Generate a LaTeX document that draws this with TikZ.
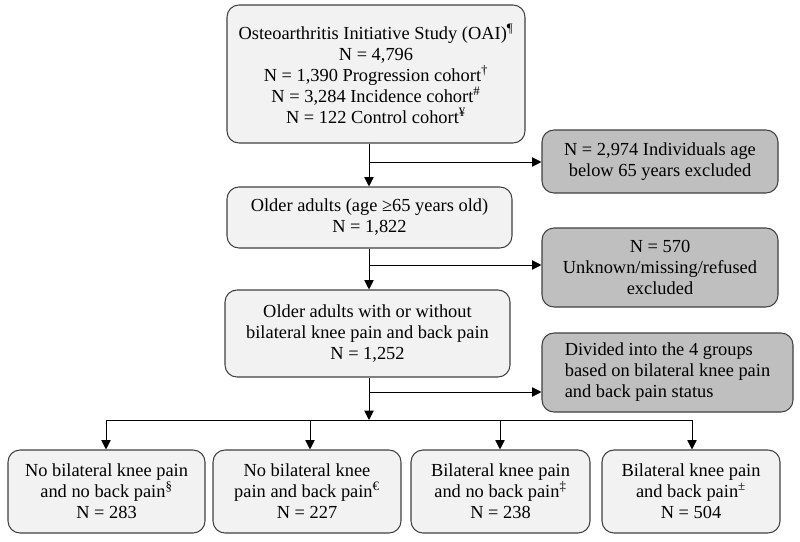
\documentclass[tikz,border=0pt]{standalone}
\usepackage{fontspec}
\setmainfont{Liberation Serif}
\usetikzlibrary{arrows.meta}
\usetikzlibrary{positioning}

\definecolor{boxfill}{gray}{0.95}
\definecolor{exclfill}{gray}{0.75}
\definecolor{edge}{gray}{0.25}

\tikzset{
  flowbox/.style={draw=edge, line width=0.8pt, rounded corners=9pt, fill=boxfill, align=center, inner sep=0pt,
    font={\fontsize{13.8pt}{15.75pt}\selectfont}},
  exclbox/.style={flowbox, fill=exclfill},
  flowarrow/.style={draw=black, line width=0.75pt, -{Triangle[width=7pt,length=7pt]}},
  flowline/.style={draw=black, line width=0.75pt}
}

\begin{document}
\begin{tikzpicture} [x=0.75pt, y=-0.75pt]
\useasboundingbox (0,0) rectangle (800,542);

\node[flowbox, minimum width=223.5pt, minimum height=103.5pt] (oai) at (376,74)
  {Osteoarthritis Initiative Study (OAI)\textsuperscript{¶}\\ N = 4,796\\
   N = 1,390 Progression cohort\textsuperscript{†}\\ N = 3,284 Incidence cohort\textsuperscript{\#}\\
   N = 122 Control cohort\textsuperscript{¥}};
\node[exclbox, minimum width=177pt, minimum height=47.25pt] (excl1) at (660,161.5)
  {N = 2,974 Individuals age\\ below 65 years excluded};
\node[flowbox, minimum width=213.75pt, minimum height=45.75pt] (older) at (369.5,217.5)
  {Older adults (age ≥65 years old)\\ N = 1,822};
\node[exclbox, minimum width=177pt, minimum height=59.25pt] (excl2) at (660,267.5)
  {N = 570\\ Unknown/missing/refused\\ excluded};
\node[flowbox, minimum width=213.75pt, minimum height=65.25pt] (pain) at (367.5,333.5)
  {Older adults with or without\\ bilateral knee pain and back pain\\ N = 1,252};
\node[exclbox, align=left, minimum width=188.25pt, minimum height=59.25pt] (divided) at (667.5,372.5)
  {Divided into the 4 groups\\ based on bilateral knee pain\\ and back pain status};

\node[flowbox, minimum width=147.75pt, minimum height=62.25pt] (nokneenoback) at (106.5,491.5)
  {No bilateral knee pain\\ and no back pain\textsuperscript{§}\\ N = 283};
\node[flowbox, minimum width=141pt, minimum height=62.25pt] (nokneeback) at (307,491.5)
  {No bilateral knee\\ pain and back pain\textsuperscript{€}\\ N = 227};
\node[flowbox, minimum width=134.25pt, minimum height=62.25pt] (kneenoback) at (500.5,491.5)
  {Bilateral knee pain\\ and no back pain\textsuperscript{‡}\\ N = 238};
\node[flowbox, minimum width=133.5pt, minimum height=62.25pt] (kneeback) at (691,491.5)
  {Bilateral knee pain\\ and back pain\textsuperscript{±}\\ N = 504};

\coordinate (spine) at (369,0);
\coordinate (split1) at (369,162);
\coordinate (split2) at (369,265);
\coordinate (split3) at (369,392);
\coordinate (bus) at (369,420);

\draw[flowarrow] (oai.south -| spine) -- (older.north -| spine);
\draw[flowarrow] (split1) -- (excl1.west |- split1);
\draw[flowarrow] (older.south -| spine) -- (pain.north -| spine);
\draw[flowarrow] (split2) -- (excl2.west |- split2);
\draw[flowarrow] (pain.south -| spine) -- (bus);
\draw[flowarrow] (split3) -- (divided.west |- split3);

\draw[flowline] (bus -| 106,0) -- (bus -| 692,0);
\foreach \grp/\gx in {nokneenoback/106, nokneeback/310, kneenoback/500, kneeback/692}
  \draw[flowarrow] (bus -| \gx,0) -- (\grp.north -| \gx,0);

\end{tikzpicture}
\end{document}
